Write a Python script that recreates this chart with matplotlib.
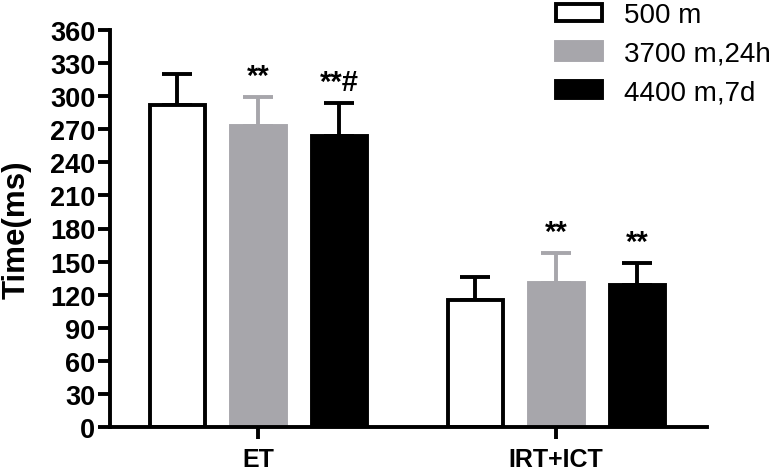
import numpy as np
import matplotlib.pyplot as plt

plt.rcParams['font.family'] = ['Liberation Sans', 'DejaVu Sans']

# Data
groups = ['ET', 'IRT+ICT']
series = ['500 m', '3700 m,24h', '4400 m,7d']
means = {
    '500 m':      [292, 115],
    '3700 m,24h': [273, 131],
    '4400 m,7d':  [264, 129],
}
sd = {
    '500 m':      [28, 21],
    '3700 m,24h': [26, 27],
    '4400 m,7d':  [30, 20],
}
marks = {
    '500 m':      ['', ''],
    '3700 m,24h': ['**', '**'],
    '4400 m,7d':  ['**#', '**'],
}

faces = ['white', '#a7a6ab', 'black']
edges = ['black', '#a7a6ab', 'black']
errc = ['black', '#a7a6ab', 'black']

fig = plt.figure(figsize=(7.74, 4.77), dpi=100)
ax = fig.add_axes([110/774, 1 - 428/477, 597/774, 397/477])

x = np.arange(len(groups))
width = 55/298
step = 81/298

for i, s in enumerate(series):
    pos = x + (i - 1) * step
    vals = np.array(means[s])
    err = np.array(sd[s])
    ax.bar(pos, vals, width, color=faces[i], edgecolor=edges[i],
           linewidth=2.8, label=s, zorder=2)
    ax.errorbar(pos, vals, yerr=[np.zeros_like(err), err], fmt='none',
                ecolor=errc[i], elinewidth=2.8, capsize=10.8, capthick=2.8,
                zorder=1)
    for p, v, e, m in zip(pos, vals, err, marks[s]):
        if m:
            ax.text(p, v + e + 19, m, ha='center', va='center',
                    fontsize=21, fontweight='bold', color='black')

ax.set_xlim((110 - 258)/298, (707 - 258)/298)
ax.set_ylim(0, 360)
ax.set_yticks(np.arange(0, 361, 30))
ax.set_xticks(x)
ax.set_xticklabels(groups, fontsize=18, fontweight='bold')
for lab in ax.get_yticklabels():
    lab.set_fontsize(19.5)
    lab.set_fontweight('bold')
ax.set_ylabel('Time(ms)', fontsize=22.5, fontweight='bold', labelpad=13)

for side in ['top', 'right']:
    ax.spines[side].set_visible(False)
for side in ['left', 'bottom']:
    ax.spines[side].set_linewidth(2.8)
ax.tick_params(axis='both', width=2.8, length=8.5, pad=2)
ax.tick_params(axis='x', pad=6)

leg = ax.legend(loc='upper left', bbox_to_anchor=(555/774, 1.0 - 2/477),
                bbox_transform=fig.transFigure, frameon=False, fontsize=20,
                handlelength=1.65, handleheight=0.6, handletextpad=0.8,
                labelspacing=0.45, borderpad=0.05, borderaxespad=0)

fig.savefig('out.png', dpi=100)
